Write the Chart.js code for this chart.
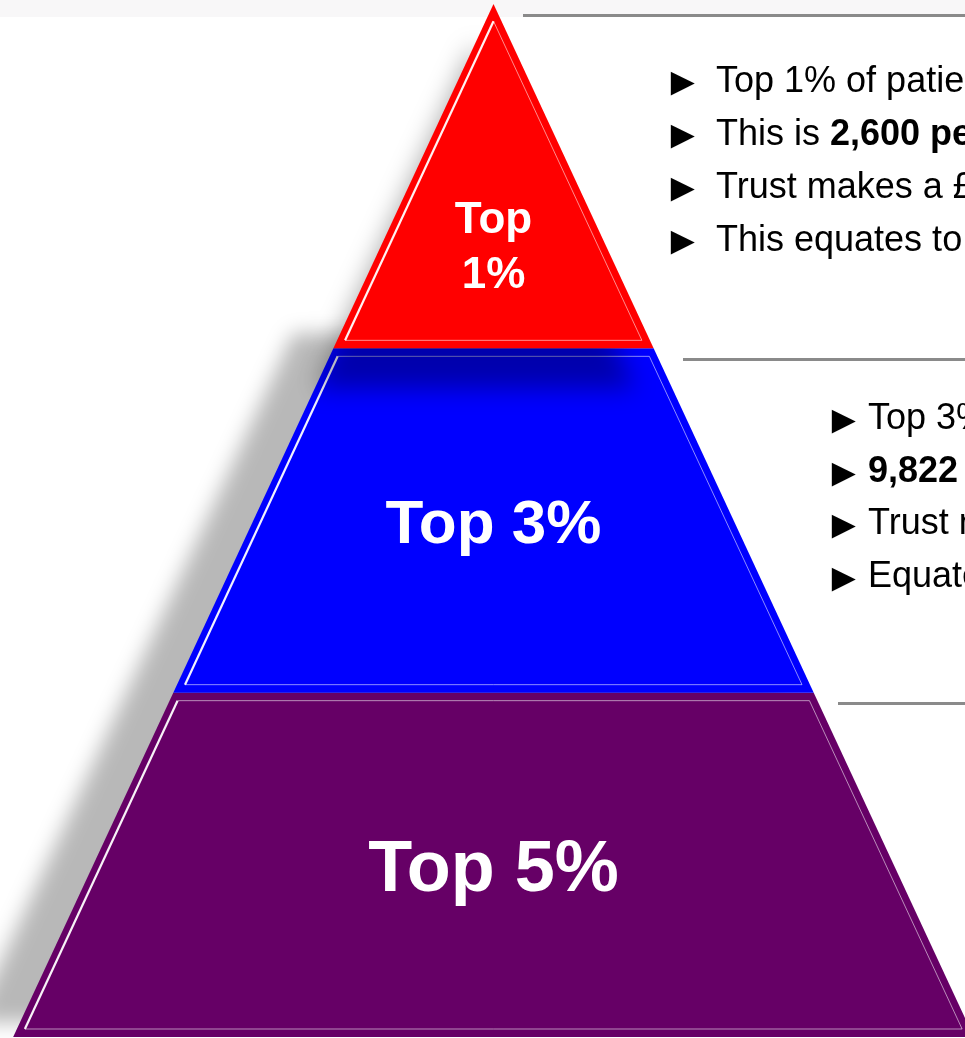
<!DOCTYPE html>
<html>
<head>
<meta charset="utf-8">
<script src="https://cdn.jsdelivr.net/npm/chart.js@4.4.1/dist/chart.umd.min.js"></script>
<style>
  body { margin: 0; background: #fff; }
  #wrap { position: relative; width: 965px; height: 1038px; overflow: hidden; font-family: "Liberation Sans", Arial, sans-serif; }
  .band { position: absolute; left: 0; top: 0; width: 965px; height: 17px; background: #f8f7f8; }
  #pyramid { position: absolute; left: 0; top: 0; }
  .rule { position: absolute; right: 0; height: 3px; background: #8a8a8a; }
  .notes { position: absolute; font-size: 36px; color: #000; white-space: nowrap; }
  .notes div { position: relative; }
  .notes .arrow { position: absolute; top: 2px; font-family: "Liberation Sans", Arial, sans-serif; font-size: 40px; }
</style>
</head>
<body>
<div id="wrap">
  <div class="band"></div>
  <canvas id="pyramid" width="965" height="1038"></canvas>
  <div class="rule" style="left:523px; top:14px;"></div>
  <div class="rule" style="left:683px; top:358px;"></div>
  <div class="rule" style="left:838px; top:702px;"></div>
  <div class="notes" id="notes1" style="left:716px; top:53px; line-height:53px;"></div>
  <div class="notes" id="notes2" style="left:868px; top:391px; line-height:52.6px;"></div>
</div>
<script>
// layers, top of the pyramid first
const layerLabels = [['Top', '1%'], ['Top 3%'], ['Top 5%']];
const layerShare = [1, 1, 1];   // each band takes the same height
const layerColors = ['#ff0000', '#0000ff', '#660066'];

// bullet text: [plain, bold, plain]
const notesTop1 = [
  ['Top 1% of patients', '', ''],
  ['This is ', '2,600 people', ''],
  ['Trust makes a £', '', ''],
  ['This equates to', '', '']
];
const notesTop3 = [
  ['Top 3% of patients', '', ''],
  ['', '9,822 people', ''],
  ['Trust makes a', '', ''],
  ['Equates to', '', '']
];

// shape of the pyramid on the page
const apexX = 493.5, apexY = 4, baseY = 1037, slope = 0.465;
const insetX = 8, insetY = 8;
const labelFonts = [44, 62, 72];
const labelPos = [0.7, 0.5, 0.5];

function half(y) { return Math.max(0, (y - apexY) * slope); }

function band(top, bottom, dx, dy) {
  return [
    {x: apexX - half(top) + dx, y: top + dy},
    {x: apexX - half(bottom) + dx, y: bottom + dy},
    {x: apexX + half(bottom) + dx, y: bottom + dy},
    {x: apexX + half(top) + dx, y: top + dy},
    {x: apexX - half(top) + dx, y: top + dy}
  ];
}

function innerBand(top, bottom, isApex) {
  const t = isApex ? apexY + insetX / slope : top + insetY;
  const b = bottom - insetY;
  return [
    {x: apexX - half(t) + insetX, y: t},
    {x: apexX - half(b) + insetX, y: b},
    {x: apexX + half(b) - insetX, y: b},
    {x: apexX + half(t) - insetX, y: t},
    {x: apexX - half(t) + insetX, y: t}
  ];
}

const total = layerShare.reduce((a, b) => a + b, 0);
const bounds = [apexY];
layerShare.forEach((s, i) => bounds.push(bounds[i] + s / total * (baseY - apexY)));

function fillSet(points, color, blur) {
  return { data: points, backgroundColor: color, borderWidth: 0, fill: 'shape',
           pointRadius: 0, tension: 0, clip: false, blur: blur || 0 };
}
function edgeSet(points) {
  return { data: points, fill: false, pointRadius: 0, tension: 0, clip: false,
           borderColor: 'rgba(255,255,255,0.55)', borderWidth: 1,
           segment: {
             borderColor: c => c.p0DataIndex === 0 ? 'rgba(255,255,255,0.95)' : 'rgba(255,255,255,0.55)',
             borderWidth: c => c.p0DataIndex === 0 ? 2.2 : 1
           } };
}

// drawing sequence, back to front
const seq = [];
seq.push(fillSet(band(bounds[1], baseY, -40, -15), 'rgba(0,0,0,0.28)', 10));
for (let i = layerLabels.length - 1; i >= 0; i--) {
  if (i === 0) seq.push(fillSet(band(bounds[0], bounds[1], -19, 40), 'rgba(0,0,0,0.32)', 12));
  seq.push(fillSet(band(bounds[i], bounds[i + 1], 0, 0), layerColors[i]));
  seq.push(edgeSet(innerBand(bounds[i], bounds[i + 1], i === 0)));
}
seq.forEach((d, i) => { d.order = seq.length - i; });

function setBlur(chart, lastIndex) {
  const drawn = chart.getSortedVisibleDatasetMetas().slice().reverse();
  const pos = lastIndex === null ? 0 : drawn.findIndex(m => m.index === lastIndex) + 1;
  const next = drawn[pos];
  chart.ctx.filter = next && next._dataset.blur ? 'blur(' + next._dataset.blur + 'px)' : 'none';
}

const blurPlugin = {
  id: 'layerBlur',
  beforeDatasetsDraw(chart) { setBlur(chart, null); },
  afterDatasetDraw(chart, args) { setBlur(chart, args.index); },
  afterDatasetsDraw(chart) { chart.ctx.filter = 'none'; }
};

const labelPlugin = {
  id: 'layerLabels',
  afterDatasetsDraw(chart) {
    const ctx = chart.ctx;
    const x = chart.scales.x.getPixelForValue(apexX);
    ctx.save();
    ctx.fillStyle = '#ffffff';
    ctx.textAlign = 'center';
    ctx.textBaseline = 'alphabetic';
    layerLabels.forEach((lines, i) => {
      const size = labelFonts[i];
      const cap = size * 0.716, lh = size * 1.25;
      const mid = bounds[i] + (bounds[i + 1] - bounds[i]) * labelPos[i];
      const cy = chart.scales.y.getPixelForValue(mid);
      const h = cap + (lines.length - 1) * lh;
      ctx.font = 'bold ' + size + 'px "Liberation Sans", Arial, sans-serif';
      lines.forEach((t, j) => ctx.fillText(t, x, cy - h / 2 + cap + j * lh));
    });
    ctx.restore();
  }
};

new Chart(document.getElementById('pyramid'), {
  type: 'line',
  data: { datasets: seq },
  options: {
    responsive: false,
    animation: false,
    events: [],
    layout: { padding: 0 },
    scales: {
      x: { type: 'linear', min: 0, max: 965, display: false },
      y: { type: 'linear', min: 0, max: 1038, reverse: true, display: false }
    },
    plugins: { legend: { display: false }, tooltip: { enabled: false } }
  },
  plugins: [blurPlugin, labelPlugin]
});

function fillNotes(id, notes, arrowLeft) {
  const box = document.getElementById(id);
  notes.forEach(n => {
    const line = document.createElement('div');
    const arrow = document.createElement('span');
    arrow.className = 'arrow';
    arrow.style.left = arrowLeft + 'px';
    arrow.textContent = '►';
    line.appendChild(arrow);
    line.appendChild(document.createTextNode(n[0]));
    if (n[1]) {
      const b = document.createElement('b');
      b.textContent = n[1];
      line.appendChild(b);
    }
    if (n[2]) line.appendChild(document.createTextNode(n[2]));
    box.appendChild(line);
  });
}
fillNotes('notes1', notesTop1, -53);
fillNotes('notes2', notesTop3, -44);
</script>
</body>
</html>
